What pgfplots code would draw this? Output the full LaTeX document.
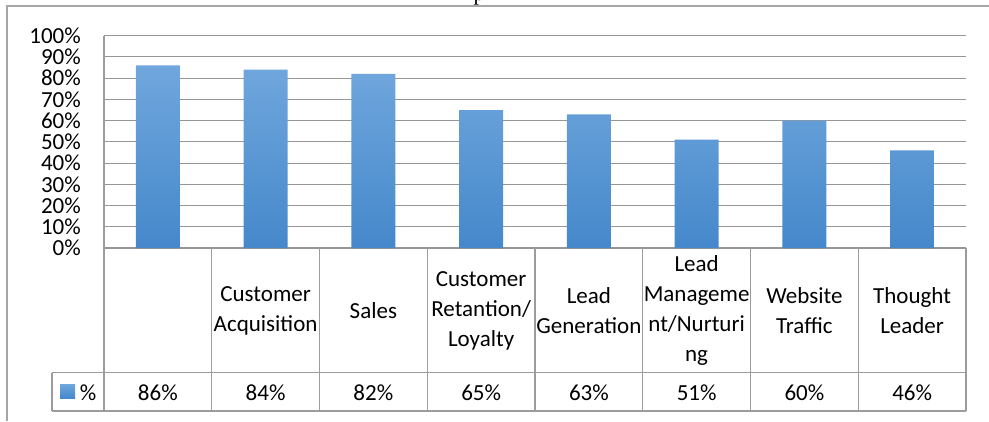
\documentclass[border=0pt]{standalone}
\usepackage{fontspec}
\setmainfont{Carlito}
\newfontfamily\seriffont{Liberation Serif}
\usepackage{pgfplots}
\pgfplotsset{compat=1.18}
\definecolor{barTop}{HTML}{70A7DD}
\definecolor{barBot}{HTML}{4588CB}
\definecolor{gridc}{HTML}{969696}
\definecolor{framec}{HTML}{A6A6A6}
\definecolor{tabc}{HTML}{9C9C9C}
\begin{document}
\begin{tikzpicture}[x=1pt,y=1pt]
\useasboundingbox (0,0) rectangle (989,421);
% outer frame
\draw[framec, line width=1.2pt] (7,0) -- (7,415) -- (989,415);
\begin{scope}
\clip (0,0) rectangle (989,421);
\node[font=\seriffont\fontsize{22}{26}\selectfont, anchor=base, inner sep=0pt] at (479,420) {p};
\end{scope}
\begin{axis}[
  at={(104pt,173pt)}, anchor=south west,
  scale only axis, width=862pt, height=212.3pt,
  xmin=-0.5, xmax=7.5, ymin=0, ymax=100,
  axis line style={draw=none},
  ytick={0,10,...,100},
  yticklabel={\pgfmathprintnumber{\tick}\%},
  ymajorgrids, grid style={gridc, line width=1.1pt},
  major tick length=0pt,
  xtick={0,...,7},
  xticklabels={{}, {Customer\\Acquisition}, {Sales}, {Customer\\Retantion/\\Loyalty}, {Lead\\Generation}, {Lead\\Manageme\\nt/Nurturi\\ng}, {Website\\Traffic}, {Thought\\Leader}},
  tick label style={font=\fontsize{23}{30}\selectfont},
  xticklabel style={anchor=center, align=center, inner sep=0pt, yshift=-62.5pt},
  yticklabel style={anchor=east, inner sep=0pt, xshift=-23pt},
  /pgf/number format/assume math mode=true,
  clip=false,
  ybar, bar width=44pt,
]
\addplot[draw=none, top color=barTop, bottom color=barBot] coordinates {
  (0,86) (1,84) (2,82) (3,65) (4,63) (5,51) (6,60) (7,46)
};
\end{axis}
% table lines
\begin{scope}[tabc, line width=1.1pt]
\draw (104,385.3) -- (104,10);
\foreach \k in {1,...,8} {
  \draw ({104+107.75*\k},173) -- ({104+107.75*\k},10);
}
\draw (52,48.3) -- (966,48.3);
\draw (52,10) -- (966,10);
\draw (52,48.3) -- (52,10);
\end{scope}
% legend key
\shade[top color=barTop, bottom color=barBot] (60,23) rectangle (75,37);
\node[font=\fontsize{23}{30}\selectfont, inner sep=0pt] at (88,28.3) {\%};
% value row
\foreach \v [count=\i from 0] in {86,84,82,65,63,51,60,46} {
  \node[font=\fontsize{23}{30}\selectfont, inner sep=0pt] at ({104+107.75*(\i+0.5)},28.3) {\v\%};
}
\end{tikzpicture}
\end{document}
